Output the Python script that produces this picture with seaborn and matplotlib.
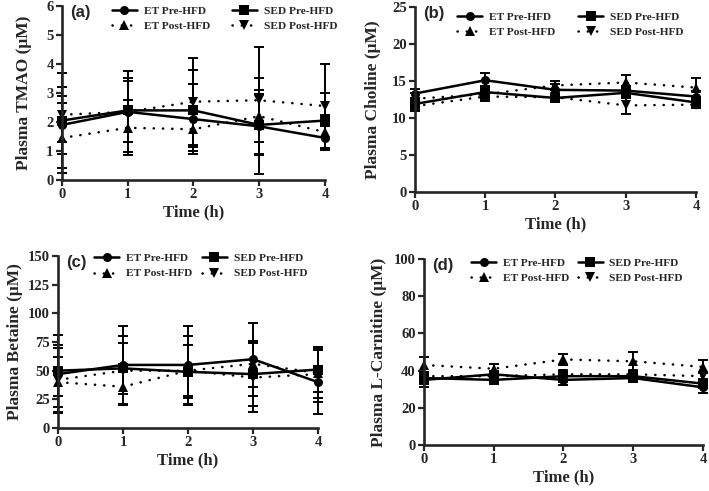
import numpy as np
import pandas as pd
import matplotlib
matplotlib.use("Agg")
import matplotlib.pyplot as plt
from matplotlib.lines import Line2D
import seaborn as sns

sns.set_style("ticks")
plt.rcParams['font.family'] = ['Liberation Serif', 'DejaVu Serif']
plt.rcParams['font.weight'] = 'bold'
plt.rcParams['lines.dash_capstyle'] = 'round'

time_h = [0, 1, 2, 3, 4]
groups = ["ET Pre-HFD", "SED Pre-HFD", "ET Post-HFD", "SED Post-HFD"]

# (a) TMAO
tmao_mean = {
    "ET Pre-HFD":   [1.9, 2.35, 2.1, 1.85, 1.45],
    "SED Pre-HFD":  [2.05, 2.4, 2.4, 1.9, 2.05],
    "ET Post-HFD":  [1.45, 1.8, 1.75, 2.2, 1.65],
    "SED Post-HFD": [2.25, 2.35, 2.7, 2.75, 2.55],
}
tmao_sd = {
    "ET Pre-HFD":   [1.0, 1.4, 1.2, 1.65, 0.4],
    "SED Pre-HFD":  [1.65, 1.1, 1.4, 1.05, 0.95],
    "ET Post-HFD":  [1.2, 0.95, 0.6, 0.9, 0.6],
    "SED Post-HFD": [0.95, 1.05, 1.5, 1.85, 1.45],
}

# (b) Choline
choline_mean = {
    "ET Pre-HFD":   [13.3, 15.1, 13.8, 13.7, 12.9],
    "SED Pre-HFD":  [11.9, 13.5, 12.7, 13.4, 12.1],
    "ET Post-HFD":  [12.6, 13.2, 14.4, 14.8, 14.1],
    "SED Post-HFD": [11.6, 12.9, 12.8, 11.7, 11.8],
}
choline_sd = {
    "ET Pre-HFD":   [0.6, 1.0, 0.8, 0.6, 0.7],
    "SED Pre-HFD":  [0.7, 0.8, 0.6, 0.7, 0.5],
    "ET Post-HFD":  [0.8, 0.8, 0.6, 1.0, 1.3],
    "SED Post-HFD": [0.6, 0.6, 0.5, 1.1, 0.5],
}

# (c) Betaine
betaine_mean = {
    "ET Pre-HFD":   [47, 55, 55, 60, 40],
    "SED Pre-HFD":  [50, 52, 49, 47, 51],
    "ET Post-HFD":  [40, 36, 50, 56, 48],
    "SED Post-HFD": [42, 50, 50, 44, 47],
}
betaine_sd = {
    "ET Pre-HFD":   [34, 34, 34, 32, 28],
    "SED Pre-HFD":  [22, 22, 23, 28, 20],
    "ET Post-HFD":  [22, 16, 30, 20, 22],
    "SED Post-HFD": [28, 30, 22, 30, 24],
}

# (d) L-Carnitine
carnitine_mean = {
    "ET Pre-HFD":   [35, 38, 35, 36, 31],
    "SED Pre-HFD":  [36, 35, 37, 37, 33],
    "ET Post-HFD":  [43, 41, 46, 45, 42],
    "SED Post-HFD": [37, 37, 38, 38, 37],
}
carnitine_sd = {
    "ET Pre-HFD":   [4, 2, 2.5, 2, 3],
    "SED Pre-HFD":  [3, 2, 3, 3, 2.5],
    "ET Post-HFD":  [4.5, 2.5, 3, 5, 3.5],
    "SED Post-HFD": [2, 2, 2, 2, 2],
}

markers = {"ET Pre-HFD": "o", "SED Pre-HFD": "s", "ET Post-HFD": "^", "SED Post-HFD": "v"}
dashes = {"ET Pre-HFD": "", "SED Pre-HFD": "", "ET Post-HFD": (0.1, 3.6), "SED Post-HFD": (0.1, 3.6)}

# label, ylabel, means, sds, ymax, ystep, axes rect, legend anchor, column spacing, ylabel pad
panels = [
    ("(a)", "Plasma TMAO (\u03bcM)", tmao_mean, tmao_sd, 6, 1,
     [0.0874, 0.6334, 0.371, 0.3544], (0.19, 1.0), 1.9, 10),
    ("(b)", "Plasma Choline (\u03bcM)", choline_mean, choline_sd, 25, 5,
     [0.5853, 0.609, 0.3963, 0.3768], (0.15, 0.975), 2.0, 8),
    ("(c)", "Plasma Betaine (\u03bcM)", betaine_mean, betaine_sd, 150, 25,
     [0.0818, 0.1283, 0.3667, 0.3503], (0.14, 1.015), 0.8, 3),
    ("(d)", "Plasma L-Carnitine (\u03bcM)", carnitine_mean, carnitine_sd, 100, 20,
     [0.598, 0.0937, 0.3935, 0.3788], (0.17, 1.005), 0.7, 5),
]

fig = plt.figure(figsize=(7.09, 4.91), dpi=100)

for label, ylab, means, sds, ymax, ystep, pos, leg_anchor, colsp, ypad in panels:
    ax = fig.add_axes(pos)
    df = pd.DataFrame([
        {"time": t, "value": v, "group": g}
        for g in groups for t, v in zip(time_h, means[g])
    ])
    sns.lineplot(data=df, x="time", y="value", style="group", style_order=groups,
                 markers=markers, dashes=dashes, color="black", linewidth=1.8,
                 markersize=6.5, markeredgewidth=0, legend=False, ax=ax, clip_on=False)
    for g in groups:
        ax.errorbar(time_h, means[g], yerr=sds[g], fmt="none", ecolor="black",
                    elinewidth=1.4, capsize=3.3, capthick=1.4, clip_on=False)

    ax.set_xlim(0, 4)
    ax.set_ylim(0, ymax)
    ax.set_xticks(time_h)
    ax.set_yticks(np.arange(0, ymax + ystep / 2, ystep))
    sns.despine(ax=ax)
    for s in ["left", "bottom"]:
        ax.spines[s].set_linewidth(1.9)
    ax.tick_params(width=1.6, length=4, labelsize=10.5, pad=2)
    for t in ax.get_xticklabels() + ax.get_yticklabels():
        t.set_fontweight("bold")
    ax.set_xlabel("Time (h)", fontsize=12, fontweight="bold", labelpad=2)
    ax.set_ylabel(ylab, fontsize=12.5, fontweight="bold", labelpad=ypad)

    ax.text(0.03, 0.965, label, transform=ax.transAxes, ha="left", va="center",
            fontsize=12, fontweight="bold", family=["Liberation Sans", "DejaVu Sans"])

    handles = [Line2D([], [], color="black", marker=markers[g], markersize=6.5,
                      linewidth=1.8, markeredgewidth=0,
                      linestyle="-" if "Pre" in g else (0, (0.1, 3.6)))
               for g in groups]
    order = [0, 2, 1, 3]
    ax.legend([handles[i] for i in order], [groups[i] for i in order], ncol=2,
              loc="upper left", bbox_to_anchor=leg_anchor, frameon=False,
              prop={"size": 8.2, "weight": "bold"}, handlelength=2.2,
              handletextpad=0.6, columnspacing=colsp, labelspacing=0.45,
              borderpad=0, borderaxespad=0)

fig.savefig("out.png", dpi=100)
